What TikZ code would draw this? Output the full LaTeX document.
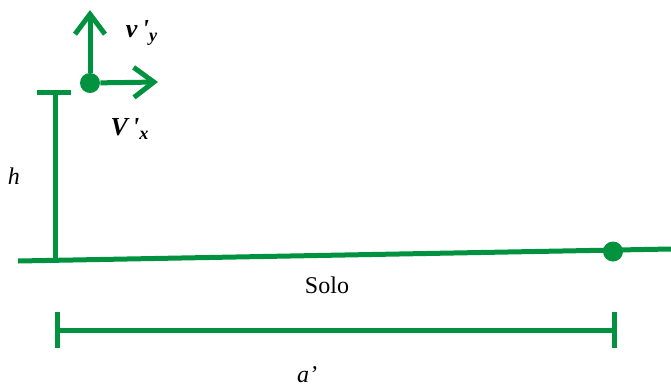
\documentclass[tikz,border=0pt]{standalone}
\usepackage{fontspec}
\setmainfont{Liberation Serif}
\usetikzlibrary{arrows.meta,positioning}
\definecolor{sologreen}{HTML}{00923F}

\begin{document}
\begin{tikzpicture}[x=0.5pt,y=-0.5pt, >={Straight Barb[length=10pt,width=15pt]},
  every node/.style={font=\fontsize{12}{14}\selectfont},
  gline/.style={line width=2.5pt,color=sologreen},
  gdot/.style={circle,fill=sologreen,inner sep=0pt,minimum size=10pt},
  vlab/.style={font=\fontsize{13}{15}\selectfont\bfseries\itshape}]
\useasboundingbox (0,0) rectangle (671,387);
\coordinate (gl) at (18,261);
\coordinate (gr) at (671,249);
\node[gdot] (ball) at (90,83) {};
\node[gdot] (land) at (613,251.5) {};
\coordinate (vy) at (90,10);
\coordinate (vx) at (158,82);
\coordinate (htop) at (55,92);
\coordinate (hbot) at (55,260);
\coordinate (dl) at (57,330);
\coordinate (dr) at (614,330);
\draw[gline] (gl) -- (gr);
\draw[gline,->] (ball) -- (vy);
\draw[gline,->] (ball) -- (vx);
\draw[gline] (hbot) -- (htop);
\draw[gline] ([xshift=-9pt]htop) -- ([xshift=8pt]htop);
\draw[gline] (dl) -- (dr);
\draw[gline] ([yshift=9pt]dl) -- ([yshift=-9pt]dl);
\draw[gline] ([yshift=9pt]dr) -- ([yshift=-9pt]dr);
\node[vlab] (vylab) at (142,33) {v\,\textquotesingle\textsubscript{y}};
\node[vlab] (vxlab) at (130,129) {V\,\textquotesingle\textsubscript{x}};
\node (hlab) at (14,176) {\itshape h};
\node (solo) at (327,285) {Solo};
\node (alab) at (307,375) {\itshape a’};
\end{tikzpicture}
\end{document}
